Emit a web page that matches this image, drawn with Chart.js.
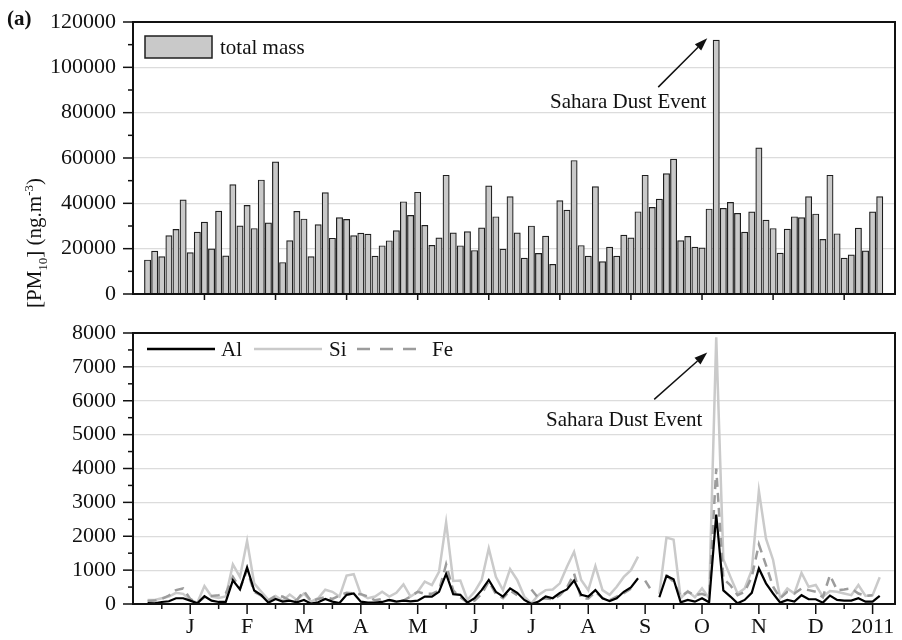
<!DOCTYPE html>
<html><head><meta charset="utf-8">
<script src="https://cdn.jsdelivr.net/npm/chart.js@4.4.0/dist/chart.umd.min.js"></script>
<style>
body{margin:0;background:#fff;width:902px;height:640px;position:relative;overflow:hidden;font-family:"Liberation Serif",serif;color:#111;}
#c1{position:absolute;left:0;top:0;}
#c2{position:absolute;left:0;top:320px;}
#lab{position:absolute;left:7px;top:6px;font-weight:bold;font-size:21px;}
#ytitle{position:absolute;left:36px;top:243px;transform:translate(-50%,-50%) rotate(-90deg);font-size:21px;white-space:nowrap;}
#ytitle sub,#ytitle sup{font-size:13px;}
</style></head><body>
<canvas id="c1" width="902" height="320"></canvas>
<canvas id="c2" width="902" height="320"></canvas>
<div id="lab">(a)</div>
<div id="ytitle">[PM<sub>10</sub>] (ng.m<sup>-3</sup>)</div>
<script>
// ---- data (one value per sample, 8 samples per month) ----
const totalMass = [15000,18900,16500,25800,28500,41500,18300,27300,31700,19900,36600,16800,48300,30100,39100,28900,50300,31400,58300,13900,
 23600,36500,33100,16500,30600,44700,24600,33700,32900,25800,26900,26400,16700,21300,23500,28000,40700,34700,44900,30300,
 21500,24800,52400,27000,21300,27500,19200,29200,47700,34100,19800,43000,27000,15800,30000,17900,25500,13100,41200,37000,
 58900,21400,16700,47400,14300,20700,16700,26000,24800,36300,52400,38200,41900,53100,59500,23600,25400,20700,20400,37500,
 112000,37800,40400,35600,27300,36200,64500,32600,28900,18000,28600,34100,33700,43000,35300,24100,52400,26600,15800,17300,
 29100,19000,36200,43000];
const alValues = [30,20,60,80,170,170,100,20,230,100,60,60,700,430,1080,400,260,40,150,70,
 100,50,120,10,50,150,70,30,270,310,70,40,40,60,120,70,100,80,100,220,
 220,360,890,290,270,40,170,410,710,360,220,460,330,120,0,70,220,170,330,430,
 690,270,220,410,170,90,170,360,490,760,null,null,200,830,730,50,120,70,170,50,
 2640,400,220,20,120,330,1050,610,310,40,120,70,260,140,140,40,250,120,100,100,
 170,70,70,240];
const siValues = [120,120,170,220,330,300,120,40,530,220,180,220,1170,800,1860,610,360,120,240,100,
 280,120,310,70,170,420,360,220,840,880,290,170,220,360,220,330,580,220,360,660,
 560,950,2410,680,690,120,360,710,1640,800,410,1030,710,220,20,270,410,430,610,1100,
 1540,710,410,1120,410,270,510,800,1000,1400,null,null,300,1960,1900,170,380,200,460,170,
 7870,1320,800,310,460,1000,3340,1930,1300,170,460,310,920,510,560,220,380,360,310,260,
 560,240,260,790];
const feValues = [90,100,150,250,410,460,150,30,200,240,260,310,800,460,1000,360,250,100,240,220,
 100,120,380,80,150,200,150,250,330,310,290,220,110,150,100,80,100,220,360,300,
 300,400,1170,400,200,40,100,300,660,300,170,400,260,null,430,170,160,140,260,480,
 900,170,160,360,170,110,220,320,450,null,690,360,null,850,660,220,360,260,300,220,
 4000,750,550,260,360,800,1760,1150,510,170,360,310,460,410,360,200,850,410,430,460,
 310,240,260,null];
const yTopTicks = [0,20000,40000,60000,80000,100000,120000];
const yBotTicks = [0,1000,2000,3000,4000,5000,6000,7000,8000];
const monthLabels = ['J','F','M','A','M','J','J','A','S','O','N','D','2011'];
const monthPos = [6,14,22,30,38,46,54,62,70,78,86,94,102];      // sample index of month start
const monthMinor = [2,10,18,26,34,42,50,58,66,74,82,90,98];     // mid-month
const topXTicks = [8,18,28,38,48,58,68,78,88,98];
const X_MIN = -2.05, X_MAX = 105.15;
const PEAK = 80;

const FONT = {family:'"Liberation Serif", "Times New Roman", serif', size:21};
const TICKFONT = {family:'"Liberation Serif", "Times New Roman", serif', size:22, lineHeight:1.1};
const pts = arr => arr.map((v,i)=>({x:i, y:v}));

const framePlugin = {
  id:'frame',
  afterDraw(chart, args, o){
    const {ctx, chartArea:a, scales} = chart;
    ctx.save();
    ctx.strokeStyle='#111';
    ctx.lineWidth=1.5;
    const ys=scales.y;
    for(let v=0; v<=o.yMax+1e-6; v+=o.yMinor){
      const p=ys.getPixelForValue(v);
      const major=Math.abs(v/o.yMajor-Math.round(v/o.yMajor))<1e-6;
      ctx.beginPath(); ctx.moveTo(a.left,p); ctx.lineTo(a.left-(major?10:5),p); ctx.stroke();
    }
    const xs=scales.x;
    (o.xMajor||[]).forEach(v=>{const p=xs.getPixelForValue(v);ctx.beginPath();ctx.moveTo(p,a.bottom);ctx.lineTo(p,a.bottom+o.xMajorLen);ctx.stroke();});
    (o.xMinor||[]).forEach(v=>{const p=xs.getPixelForValue(v);ctx.beginPath();ctx.moveTo(p,a.bottom);ctx.lineTo(p,a.bottom+5);ctx.stroke();});
    ctx.lineWidth=2;
    ctx.strokeRect(a.left,a.top,a.right-a.left,a.bottom-a.top);
    ctx.restore();
  }
};

const notePlugin = {
  id:'note',
  afterDraw(chart, args, o){
    if(!o.text) return;
    const {ctx, scales} = chart;
    const d = chart.data.datasets[o.ds].data[o.index];
    const px = scales.x.getPixelForValue(d.x), py = scales.y.getPixelForValue(d.y);
    const tx=px+o.tip[0], ty=py+o.tip[1], sx=px+o.tail[0], sy=py+o.tail[1];
    ctx.save();
    ctx.strokeStyle='#111'; ctx.fillStyle='#111'; ctx.lineWidth=1.5;
    const ang=Math.atan2(ty-sy,tx-sx), L=13, W=4.5;
    const bx=tx-L*Math.cos(ang), by=ty-L*Math.sin(ang);
    ctx.beginPath(); ctx.moveTo(sx,sy); ctx.lineTo(bx,by); ctx.stroke();
    ctx.beginPath(); ctx.moveTo(tx,ty);
    ctx.lineTo(bx+W*Math.sin(ang), by-W*Math.cos(ang));
    ctx.lineTo(bx-W*Math.sin(ang), by+W*Math.cos(ang));
    ctx.closePath(); ctx.fill();
    ctx.font = FONT.size+'px '+FONT.family;
    ctx.textAlign='center'; ctx.textBaseline='alphabetic';
    ctx.fillText(o.text, px+o.textPos[0], py+o.textPos[1]);
    ctx.restore();
  }
};

const legendPlugin = {
  id:'mylegend',
  afterDraw(chart, args, o){
    const {ctx, chartArea:a} = chart;
    ctx.save();
    ctx.font = FONT.size+'px '+FONT.family;
    ctx.textBaseline='middle'; ctx.textAlign='left'; ctx.fillStyle='#111';
    o.items.forEach(it=>{
      const y=a.top+it.y;
      if(it.box){
        ctx.fillStyle='#c9c9c9'; ctx.fillRect(a.left+it.x0, y-11, it.x1-it.x0, 22);
        ctx.strokeStyle='#1e1e1e'; ctx.lineWidth=1.5; ctx.strokeRect(a.left+it.x0, y-11, it.x1-it.x0, 22);
      } else {
        ctx.strokeStyle=it.color; ctx.lineWidth=it.width; ctx.setLineDash(it.dash||[]);
        ctx.beginPath(); ctx.moveTo(a.left+it.x0,y); ctx.lineTo(a.left+it.x1,y); ctx.stroke();
        ctx.setLineDash([]);
      }
      ctx.fillStyle='#111';
      ctx.fillText(it.label, a.left+it.tx, y+1);
    });
    ctx.restore();
  }
};

const gridColor = max => c => (c.tick.value<=0||c.tick.value>=max)?'rgba(0,0,0,0)':'#dcdcdc';
const yGrid = max => ({color:gridColor(max), lineWidth:1.2, drawTicks:true, tickLength:17, tickColor:'rgba(0,0,0,0)'});

new Chart(document.getElementById('c1'), {
  type:'bar',
  data:{datasets:[{label:'total mass', data:pts(totalMass), backgroundColor:'#c9c9c9', borderColor:'#1e1e1e', borderWidth:1.2, barThickness:6.3}]},
  options:{
    responsive:false, animation:false,
    layout:{padding:{left:0,right:7,top:22,bottom:0}},
    plugins:{legend:{display:false}, tooltip:{enabled:false},
      frame:{yMax:120000,yMajor:20000,yMinor:10000,xMajor:topXTicks,xMajorLen:6},
      note:{text:'Sahara Dust Event', ds:0, index:PEAK, tip:[-9,-2], tail:[-58,47], textPos:[-88,68]},
      mylegend:{items:[{box:true,x0:12,x1:79,y:25,tx:87,label:'total mass'}]}
    },
    scales:{
      x:{type:'linear', min:X_MIN, max:X_MAX, offset:false, grid:{display:false,drawTicks:false}, border:{display:false}, ticks:{display:false}, afterFit(s){s.height=26;}},
      y:{min:0, max:120000, afterBuildTicks(s){s.ticks=yTopTicks.map(v=>({value:v}));},
         ticks:{font:TICKFONT, color:'#111', padding:0, callback:v=>String(v)},
         grid:yGrid(120000), border:{display:false}, afterFit(s){s.width=133;}}
    }
  },
  plugins:[framePlugin, notePlugin, legendPlugin]
});

new Chart(document.getElementById('c2'), {
  type:'line',
  data:{datasets:[
    {label:'Al', data:pts(alValues), borderColor:'#000', borderWidth:2.2, pointRadius:0, tension:0, spanGaps:false, order:1},
    {label:'Fe', data:pts(feValues), borderColor:'#9c9c9c', borderWidth:2.5, borderDash:[9,6], pointRadius:0, tension:0, spanGaps:false, order:2},
    {label:'Si', data:pts(siValues), borderColor:'#cacaca', borderWidth:2.5, pointRadius:0, tension:0, spanGaps:false, order:3}
  ]},
  options:{
    responsive:false, animation:false,
    layout:{padding:{left:0,right:7,top:13,bottom:0}},
    plugins:{legend:{display:false}, tooltip:{enabled:false},
      frame:{yMax:8000,yMajor:1000,yMinor:500,xMajor:monthPos,xMinor:monthMinor,xMajorLen:10},
      note:{text:'Sahara Dust Event', ds:2, index:PEAK, tip:[-9,15], tail:[-62,62], textPos:[-92,89]},
      mylegend:{items:[
        {x0:14,x1:82,y:16,tx:88,label:'Al',color:'#000',width:2.5},
        {x0:121,x1:189,y:16,tx:196,label:'Si',color:'#cacaca',width:2.5},
        {x0:224,x1:287,y:16,tx:299,label:'Fe',color:'#9c9c9c',width:2.5,dash:[13,10]}
      ]}
    },
    scales:{
      x:{type:'linear', min:X_MIN, max:X_MAX, offset:false,
         afterBuildTicks(s){s.ticks=monthPos.map(v=>({value:v}));},
         ticks:{font:TICKFONT, color:'#111', padding:0, autoSkip:false, maxRotation:0, callback:(v,i)=>monthLabels[i]},
         grid:{display:false,drawTicks:true,tickLength:11,tickColor:'rgba(0,0,0,0)'}, border:{display:false}, afterFit(s){s.height=36;}},
      y:{min:0, max:8000, afterBuildTicks(s){s.ticks=yBotTicks.map(v=>({value:v}));},
         ticks:{font:TICKFONT, color:'#111', padding:0, callback:v=>String(v)},
         grid:yGrid(8000), border:{display:false}, afterFit(s){s.width=133;}}
    }
  },
  plugins:[framePlugin, notePlugin, legendPlugin]
});
</script>
</body></html>
